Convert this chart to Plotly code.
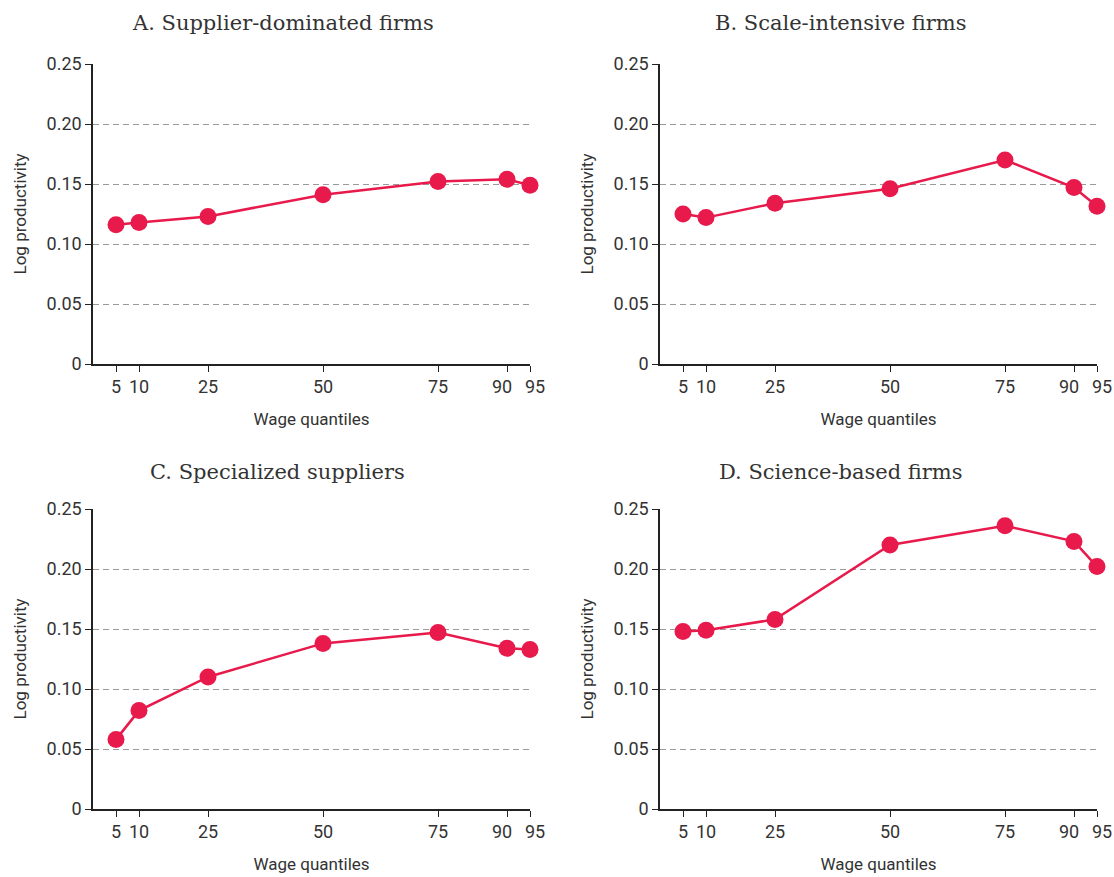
import plotly.graph_objects as go

# ---- data ----
quantiles = [5, 10, 25, 50, 75, 90, 95]
supplier_dominated = [0.116, 0.118, 0.123, 0.141, 0.152, 0.154, 0.149]
scale_intensive = [0.125, 0.122, 0.134, 0.146, 0.170, 0.147, 0.1315]
specialized_suppliers = [0.058, 0.082, 0.110, 0.138, 0.147, 0.134, 0.133]
science_based = [0.148, 0.149, 0.158, 0.220, 0.236, 0.223, 0.202]

panel_titles = ["A. Supplier-dominated firms", "B. Scale-intensive firms",
                "C. Specialized suppliers", "D. Science-based firms"]
series = [supplier_dominated, scale_intensive, specialized_suppliers, science_based]

y_tickvals = [0, 0.05, 0.10, 0.15, 0.20, 0.25]
y_ticktext = ["0", "0.05", "0.10", "0.15", "0.20", "0.25"]
x_tickvals = quantiles
x_labels = [str(q) for q in quantiles]
# the two crowded right-hand labels (90, 95) are drawn nudged apart, as in the original
nudged = {90: -5, 95: 5}
x_ticktext = ["" if q in nudged else s for q, s in zip(quantiles, x_labels)]

W, H = 1114, 877
RED = "#E8194B"
TEXT = "#333333"
SANS = "Roboto, sans-serif"
TICKFONT = dict(family=SANS, size=18, color=TEXT)
AXTITLEFONT = dict(family=SANS, size=17, color=TEXT)

# pixel boxes of the four plot areas (left, right, top, bottom)
boxes = [(93, 530, 64, 364), (660, 1097, 64, 364),
         (93, 530, 509, 809), (660, 1097, 509, 809)]
title_pos = [(283, 23), (841, 23), (277, 472), (841, 472)]

fig = go.Figure()
layout = dict(width=W, height=H, margin=dict(l=0, r=0, t=0, b=0),
              paper_bgcolor="white", plot_bgcolor="white", showlegend=False,
              annotations=[])

for i, (vals, title) in enumerate(zip(series, panel_titles)):
    n = "" if i == 0 else str(i + 1)
    fig.add_trace(go.Scatter(
        x=quantiles, y=vals, mode="lines+markers",
        xaxis="x" + n, yaxis="y" + n,
        line=dict(color=RED, width=2.5),
        marker=dict(color=RED, size=17),
        cliponaxis=False, hoverinfo="x+y"))
    l, r, t, b = boxes[i]
    layout["xaxis" + n] = dict(
        domain=[l / W, r / W], anchor="y" + n, range=[0, 95], automargin=False,
        tickvals=x_tickvals, ticktext=x_ticktext, tickfont=TICKFONT,
        tickangle=0, ticklabeloverflow="allow",
        ticks="outside", ticklen=6, tickwidth=1.3, tickcolor="#222",
        showline=True, linecolor="#222", linewidth=1.5,
        showgrid=False, zeroline=False,
        title=dict(text="Wage quantiles", font=AXTITLEFONT, standoff=17))
    layout["yaxis" + n] = dict(
        domain=[1 - b / H, 1 - t / H], anchor="x" + n, range=[0, 0.25], automargin=False,
        tickvals=y_tickvals, ticktext=y_ticktext, tickfont=TICKFONT,
        ticklabeloverflow="allow",
        ticks="outside", ticklen=6, tickwidth=1.3, tickcolor="#222",
        showline=True, linecolor="#222", linewidth=1.5,
        showgrid=True, gridcolor="#9a9a9a", gridwidth=1, griddash="6px,4px",
        zeroline=False,
        title=dict(text="Log productivity", font=AXTITLEFONT, standoff=16))
    # nudged tick labels, placed through the axis scale
    for q, s in zip(quantiles, x_labels):
        if q in nudged:
            layout["annotations"].append(dict(
                text=s, xref="x" + n, yref="y" + n, x=q, y=0,
                xanchor="center", yanchor="middle", xshift=nudged[q], yshift=-22,
                showarrow=False, font=TICKFONT))
    tx, ty = title_pos[i]
    layout["annotations"].append(dict(
        text=title, xref="paper", yref="paper", x=tx / W, y=1 - ty / H,
        xanchor="center", yanchor="middle", showarrow=False,
        font=dict(family="DejaVu Serif, serif", size=21, color=TEXT)))

fig.update_layout(**layout)
fig.write_html("out.html")
